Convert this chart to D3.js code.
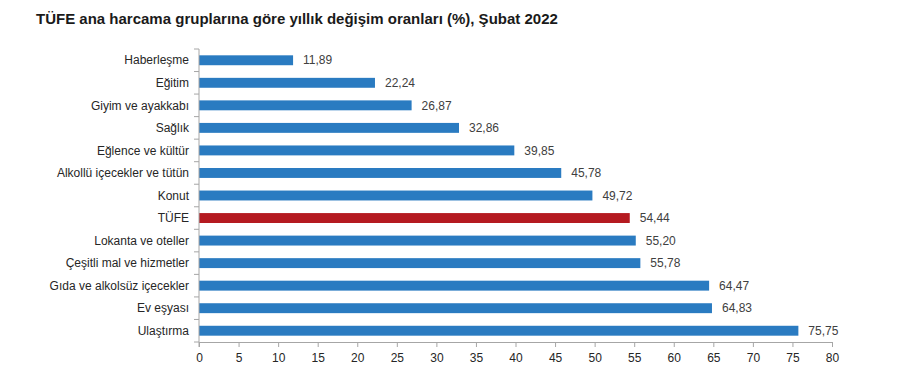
<!DOCTYPE html>
<html>
<head>
<meta charset="utf-8">
<script src="https://cdn.jsdelivr.net/npm/d3@7"></script>
<style>
body { margin: 0; background: #fff; }
svg { display: block; font-family: Arial, "Liberation Sans", sans-serif; }
.axis path, .axis line { stroke: #a6a6a6; }
.axis text { fill: #262626; font-size: 12px; font-family: Arial, "Liberation Sans", sans-serif; }
</style>
</head>
<body>
<div id="container"></div>
<script>
var categories = ["Haberleşme", "Eğitim", "Giyim ve ayakkabı", "Sağlık", "Eğlence ve kültür",
	"Alkollü içecekler ve tütün", "Konut", "TÜFE", "Lokanta ve oteller", "Çeşitli mal ve hizmetler",
	"Gıda ve alkolsüz içecekler", "Ev eşyası", "Ulaştırma"];
var values = [11.89, 22.24, 26.87, 32.86, 39.85, 45.78, 49.72, 54.44, 55.20, 55.78, 64.47, 64.83, 75.75];
var xTicks = [0, 5, 10, 15, 20, 25, 30, 35, 40, 45, 50, 55, 60, 65, 70, 75, 80];

var width = 906,
	height = 389,
	plotLeft = 199,
	plotRight = 832,
	plotTop = 49,
	plotBottom = 342;

var svg = d3.select("#container")
	.append("svg")
		.attr("width", width)
		.attr("height", height);

svg.append("text")
	.attr("x", 36)
	.attr("y", 24)
	.style("font-size", "15px")
	.style("font-weight", "bold")
	.style("fill", "#1a1a1a")
	.text("TÜFE ana harcama gruplarına göre yıllık değişim oranları (%), Şubat 2022");

var xScale = d3.scaleLinear()
	.domain([0, 80])
	.range([plotLeft, plotRight]);

var yScale = d3.scaleBand()
	.domain(categories)
	.range([plotTop, plotBottom])
	.paddingInner(0.56)
	.paddingOuter(0.28);

// bars
svg.selectAll("rect.bar")
	.data(values)
	.enter().append("rect")
		.attr("class", "bar")
		.attr("x", xScale(0))
		.attr("y", function(d, i){ return yScale(categories[i]); })
		.attr("height", yScale.bandwidth())
		.attr("width", function(d){ return xScale(d) - xScale(0); })
		.style("fill", function(d, i){
			return categories[i] == "TÜFE" ? "#b51a20" : "#2a7bc1";
		});

// value labels
svg.selectAll("text.val")
	.data(values)
	.enter().append("text")
		.attr("class", "val")
		.attr("x", function(d){ return xScale(d) + 10; })
		.attr("y", function(d, i){ return yScale(categories[i]) + yScale.bandwidth() / 2; })
		.attr("dy", "0.35em")
		.style("font-size", "12px")
		.style("fill", "#404040")
		.text(function(d){ return d3.format(".2f")(d).replace(".", ","); });

// x axis
svg.append("g")
	.attr("class", "axis")
	.attr("transform", "translate(0," + plotBottom + ")")
	.call(d3.axisBottom(xScale).tickValues(xTicks).tickSize(5).tickSizeOuter(0).tickPadding(6))
	.call(function(g){ g.selectAll("text").style("font-size", "12px"); });

// y axis: ticks on band boundaries, labels centered on bands
var yAxis = svg.append("g")
	.attr("class", "axis")
	.attr("transform", "translate(" + plotLeft + ",0)");

yAxis.append("line")
	.attr("x1", 0).attr("x2", 0)
	.attr("y1", plotTop).attr("y2", plotBottom + 5);

var step = yScale.step();
yAxis.selectAll("line.tk")
	.data(d3.range(categories.length + 1))
	.enter().append("line")
		.attr("class", "tk")
		.attr("x1", -5).attr("x2", 0)
		.attr("y1", function(i){ return plotTop + i * step; })
		.attr("y2", function(i){ return plotTop + i * step; });

yAxis.selectAll("text")
	.data(categories)
	.enter().append("text")
		.attr("x", -10)
		.attr("y", function(d){ return yScale(d) + yScale.bandwidth() / 2; })
		.attr("dy", "0.35em")
		.attr("text-anchor", "end")
		.text(function(d){ return d; });
</script>
</body>
</html>
